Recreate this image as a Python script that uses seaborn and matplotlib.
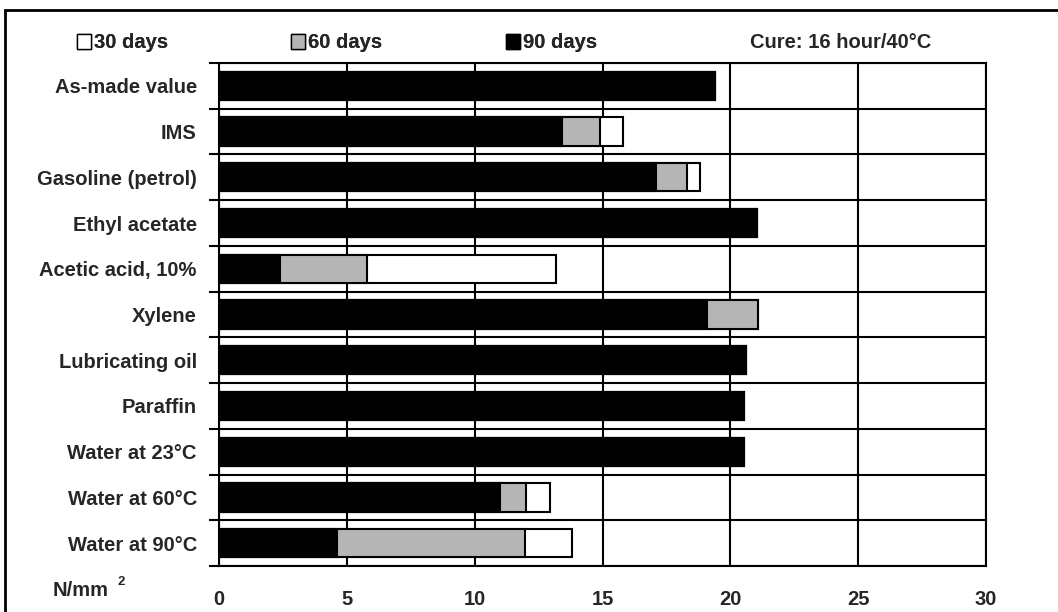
import numpy as np
import pandas as pd
import matplotlib.pyplot as plt
import matplotlib.ticker as ticker
from matplotlib.patches import Patch, Rectangle
import seaborn as sns

categories = ["As-made value", "IMS", "Gasoline (petrol)", "Ethyl acetate",
              "Acetic acid, 10%", "Xylene", "Lubricating oil", "Paraffin",
              "Water at 23°C", "Water at 60°C", "Water at 90°C"]
days_30 = [19.4, 15.8, 18.8, 21.05, 13.2, 21.1, 20.6, 20.55, 20.55, 12.95, 13.8]
days_60 = [19.4, 14.9, 18.3, 21.05, 5.8, 21.1, 20.6, 20.55, 20.55, 12.0, 11.95]
days_90 = [19.4, 13.4, 17.1, 21.05, 2.4, 19.1, 20.6, 20.55, 20.55, 11.0, 4.6]
xticks = [0, 5, 10, 15, 20, 25, 30]

df = pd.DataFrame({"medium": categories, "30 days": days_30,
                   "60 days": days_60, "90 days": days_90})

sns.set_style("white")
plt.rcParams["font.family"] = ["Liberation Sans", "DejaVu Sans"]
plt.rcParams["font.weight"] = "bold"
fs = 14.5

fig = plt.figure(figsize=(10.58, 6.12), dpi=100)
ax = fig.add_axes([219/1058, 1-566/612, (986-219)/1058, (566-63)/612])

styles = [("30 days", "white"), ("60 days", "#b5b5b5"), ("90 days", "black")]
for col, colour in styles:
    sns.barplot(data=df, x=col, y="medium", order=categories, color=colour,
                width=0.62, edgecolor="black", linewidth=1.5, saturation=1,
                ax=ax, zorder=3)

ax.set_xlim(0, 30)
ax.set_ylim(len(categories) - 0.5, -0.5)
ax.set_xticks(xticks)
ax.xaxis.set_major_formatter(ticker.FormatStrFormatter("%d"))
ax.set_yticks(np.arange(-0.5, len(categories), 1.0), minor=True)
ax.grid(True, axis="x", which="major", color="black", linewidth=1.5, zorder=0)
ax.grid(True, axis="y", which="minor", color="black", linewidth=1.5, zorder=0)
ax.set_axisbelow(True)
ax.tick_params(axis="y", which="major", length=0, pad=16, labelsize=fs)
ax.tick_params(axis="y", which="minor", length=7, width=1.5, color="black", left=True)
ax.tick_params(axis="x", which="major", length=0, pad=17, labelsize=fs)
for lab in ax.get_xticklabels() + ax.get_yticklabels():
    lab.set_fontweight("bold")
for sp in ax.spines.values():
    sp.set_color("black")
    sp.set_linewidth(1.5)
ax.set_xlabel("")
ax.set_ylabel("")

# legend entries placed one by one, as in the original layout
legend_x = [77, 291, 506]
for (lab, colour), lx in zip(styles, legend_x):
    h = Patch(facecolor=colour, edgecolor="black", linewidth=1, label=lab)
    lg = fig.legend(handles=[h], loc="center left", bbox_to_anchor=(lx/1058, 1-43/612),
                    frameon=False, handlelength=0.7, handleheight=0.7,
                    handletextpad=0.15, borderpad=0, borderaxespad=0,
                    prop={"weight": "bold", "size": fs})
    fig.add_artist(lg)
fig.text(750/1058, 1-43/612, "Cure: 16 hour/40°C", fontsize=fs, fontweight="bold",
         va="center", ha="left")

fig.text(53/1058, 1-591/612, "N/mm", fontsize=fs, fontweight="bold", va="center")
fig.text(118/1058, 1-582/612, "2", fontsize=9.5, fontweight="bold", va="center")

fig.add_artist(Rectangle((5/1058, -0.02), 1.02, 1.02 - 10/612,
                         transform=fig.transFigure, fill=False,
                         edgecolor="black", linewidth=2))

fig.savefig("out.png", dpi=100)
